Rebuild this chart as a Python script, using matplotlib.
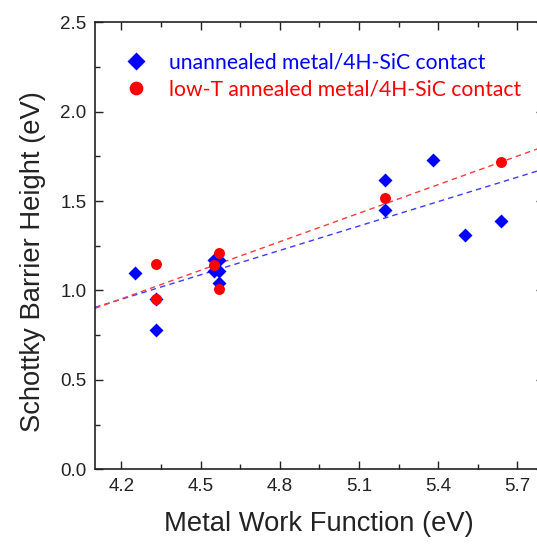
import matplotlib.pyplot as plt
import numpy as np
from matplotlib.ticker import MultipleLocator

# work function (eV) vs barrier height (eV)
unannealed_wf = [4.25, 4.33, 4.33, 4.55, 4.57, 4.55, 4.57, 4.57, 5.20, 5.20, 5.38, 5.50, 5.64]
unannealed_sbh = [1.10, 0.95, 0.78, 1.17, 1.17, 1.11, 1.11, 1.04, 1.62, 1.45, 1.73, 1.31, 1.39]

annealed_wf = [4.33, 4.33, 4.57, 4.55, 4.57, 5.20, 5.64]
annealed_sbh = [1.15, 0.95, 1.21, 1.14, 1.01, 1.52, 1.72]

# linear fits (slope, intercept)
unannealed_fit = (0.455, -0.960)
annealed_fit = (0.532, -1.281)

x_ticks = [4.2, 4.5, 4.8, 5.1, 5.4, 5.7]
y_ticks = [0.0, 0.5, 1.0, 1.5, 2.0, 2.5]

fig = plt.figure(figsize=(5.37, 5.46), dpi=100)
ax = fig.add_axes([0.1769, 0.1405, 0.8356, 0.8187])

xs = np.array([4.1, 5.8])
ax.plot(xs, unannealed_fit[0] * xs + unannealed_fit[1], color='#3b3bff', lw=1.0,
        dashes=(4, 3), zorder=1)
ax.plot(xs, annealed_fit[0] * xs + annealed_fit[1], color='#ff3b3b', lw=1.0,
        dashes=(4, 3), zorder=1)

ax.plot(unannealed_wf, unannealed_sbh, 'D', color='blue', ms=7.2, mec='none',
        label='unannealed metal/4H-SiC contact', zorder=3)
ax.plot(annealed_wf, annealed_sbh, 'o', color='red', ms=7.9, mec='none',
        label='low-T annealed metal/4H-SiC contact', zorder=4)

ax.set_xlim(4.1, 5.8)
ax.set_ylim(0, 2.5)
ax.set_xticks(x_ticks)
ax.set_yticks(y_ticks)
ax.xaxis.set_minor_locator(MultipleLocator(0.15))
ax.yaxis.set_minor_locator(MultipleLocator(0.25))
ax.set_xticklabels([f'{v:.1f}' for v in x_ticks])
ax.set_yticklabels([f'{v:.1f}' for v in y_ticks])

ax.tick_params(which='both', direction='in', top=True, right=True, width=1.0,
               labelsize=13.5, colors='#222222', pad=6)
ax.tick_params(which='major', length=6)
ax.tick_params(which='minor', length=3.5)
for sp in ax.spines.values():
    sp.set_linewidth(1.2)
    sp.set_color('#222222')

for lbl in ax.get_xticklabels() + ax.get_yticklabels():
    lbl.set_fontfamily('Liberation Sans')

ax.set_xlabel('Metal Work Function (eV)', fontsize=19.7, family='Liberation Sans',
              color='#222222', labelpad=12)
ax.set_ylabel('Schottky Barrier Height (eV)', fontsize=19.7, family='Liberation Sans',
              color='#222222')
ax.yaxis.set_label_coords(-0.11, 0.464)

leg = ax.legend(loc='upper left', bbox_to_anchor=(0.015, 0.975), frameon=False,
                prop={'family': 'Lato', 'size': 15.2}, handletextpad=0.9,
                handlelength=1.4, labelspacing=0.35, markerscale=1.25)
for txt, c in zip(leg.get_texts(), ['blue', 'red']):
    txt.set_color(c)

fig.savefig('out.png', dpi=100)
